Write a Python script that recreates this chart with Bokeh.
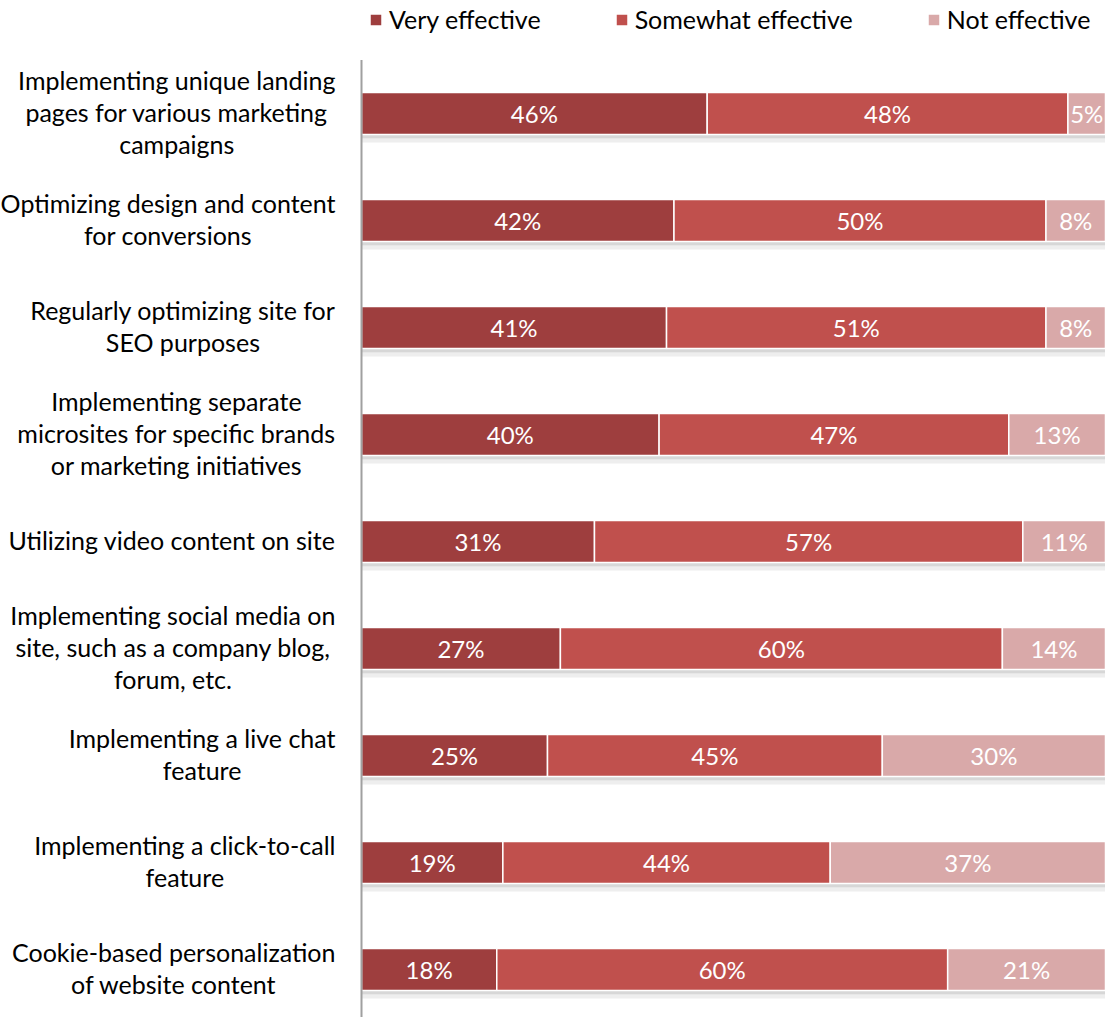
from bokeh.plotting import figure
from bokeh.models import Range1d, ColumnDataSource, Legend, LegendItem
from bokeh.core.properties import value
from bokeh.embed import file_html
from bokeh.resources import INLINE

categories = [
    "Implementing unique landing\npages for various marketing\ncampaigns",
    "Optimizing design and content\nfor conversions",
    "Regularly optimizing site for\nSEO purposes",
    "Implementing separate\nmicrosites for specific brands\nor marketing initiatives",
    "Utilizing video content on site",
    "Implementing social media on\nsite, such as a company blog,\nforum, etc.",
    "Implementing a live chat\nfeature",
    "Implementing a click-to-call\nfeature",
    "Cookie-based personalization\nof website content",
]
very_effective = [46, 42, 41, 40, 31, 27, 25, 19, 18]
somewhat_effective = [48, 50, 51, 47, 57, 60, 45, 44, 60]
not_effective = [5, 8, 8, 13, 11, 14, 30, 37, 21]
series_names = ["Very effective", "Somewhat effective", "Not effective"]
colors = ["#9E3E3E", "#C0504D", "#D9A9A9"]

FONT = "Lato"
W, H = 1105, 1017
axis_px = 361
bar_px = W - axis_px
unit_px = 107
first_center_px = 113

x_start = -axis_px / bar_px
y_top = -first_center_px / unit_px
y_bottom = (H - first_center_px) / unit_px

p = figure(width=W, height=H, output_backend="svg", toolbar_location=None,
           x_range=Range1d(x_start, 1.0), y_range=Range1d(y_bottom, y_top),
           min_border=0, min_border_left=0, min_border_right=0,
           min_border_top=0, min_border_bottom=0)
p.axis.visible = False
p.grid.visible = False
p.outline_line_color = None
p.background_fill_color = "white"

n = len(categories)
ys = list(range(n))
series = [very_effective, somewhat_effective, not_effective]
totals = [sum(s[i] for s in series) for i in range(n)]

bar_h = 42 / unit_px
px = 1 / unit_px

# shadows
p.quad(left=[0] * n, right=[1] * n,
       top=[y + bar_h / 2 for y in ys], bottom=[y + bar_h / 2 + 4 * px for y in ys],
       fill_color="#BDBDBD", fill_alpha=0.6, line_color=None)
p.quad(left=[0] * n, right=[1] * n,
       top=[y + bar_h / 2 + 4 * px for y in ys], bottom=[y + bar_h / 2 + 8 * px for y in ys],
       fill_color="#E3E3E3", fill_alpha=0.6, line_color=None)

legend_items = []
left = [0.0] * n
for s, name, col in zip(series, series_names, colors):
    frac = [s[i] / totals[i] for i in range(n)]
    right = [left[i] + frac[i] for i in range(n)]
    src = ColumnDataSource(dict(y=ys, left=left, right=right,
                                mid=[(left[i] + right[i]) / 2 for i in range(n)],
                                lab=[f"{v}%" for v in s]))
    r = p.hbar(y="y", left="left", right="right", height=bar_h, source=src,
               fill_color=col, line_color="white", line_width=1.5)
    legend_items.append(LegendItem(label=name, renderers=[r]))
    p.text(x="mid", y="y", text="lab", source=src, text_color="white",
           text_font=value(FONT), text_font_size="24px",
           text_align="center", text_baseline="middle")
    left = right

# axis line
p.segment(x0=[0], x1=[0], y0=[-0.5], y1=[y_bottom + 1], line_color="#A0A0A0", line_width=2)

# category labels
p.text(x=[0] * n, y=ys, text=categories, x_offset=-26, y_offset=-1.5,
       text_font=value(FONT), text_font_size="25px", text_color="black",
       text_align="center", anchor="center_right", text_baseline="middle",
       text_line_height=1.08)

legend = Legend(items=legend_items,
                orientation="horizontal", location=(368, H - 34),
                label_text_font=FONT, label_text_font_size="25px",
                label_text_color="black", glyph_width=15, glyph_height=15,
                spacing=73, label_standoff=6, padding=0, margin=0,
                border_line_color=None, background_fill_alpha=0)
p.add_layout(legend, "center")

open("out.html", "w").write(file_html(p, INLINE))
